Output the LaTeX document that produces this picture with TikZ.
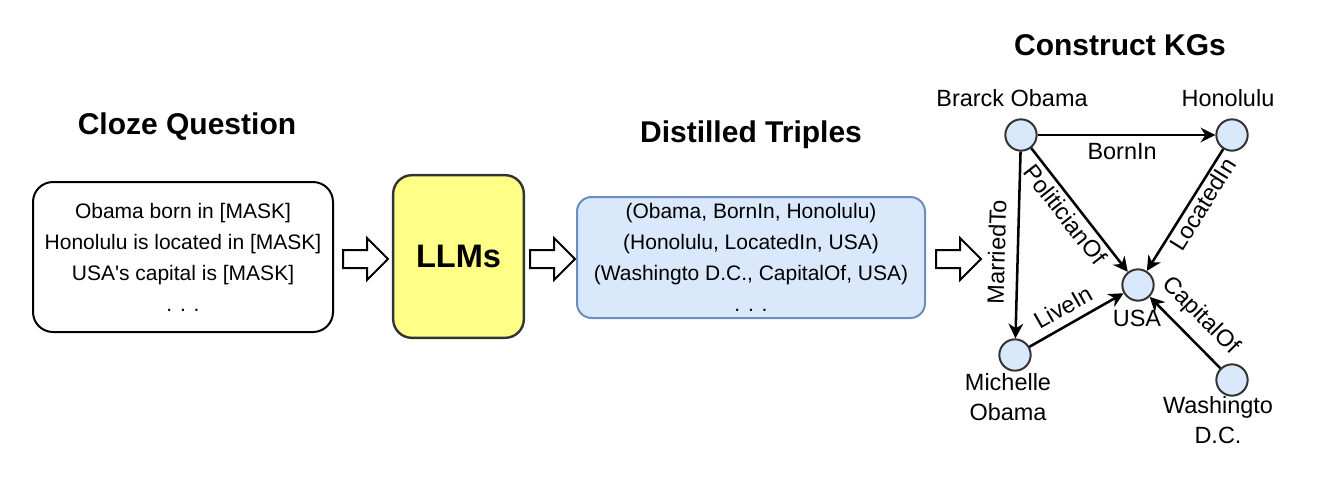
\documentclass[tikz,border=0pt]{standalone}
\usepackage{fontspec}
\setmainfont{Liberation Sans}
\usetikzlibrary{arrows.meta}
\definecolor{kgblue}{HTML}{DAE8FC}
\definecolor{kgborder}{HTML}{6C8EBF}
\definecolor{llmyellow}{HTML}{FFFF88}
\definecolor{darkline}{HTML}{333333}
\tikzset{
  ttl/.style={font=\fontsize{22.5}{27}\selectfont\bfseries, inner sep=0pt},
  boxtext/.style={font=\fontsize{15.75}{23.25}\selectfont, align=center},
  clozebox/.style={draw=black, line width=1.5pt, rounded corners=15pt, minimum width=225pt, minimum height=112.5pt, boxtext},
  llmbox/.style={draw=darkline, fill=llmyellow, line width=1.8pt, rounded corners=14pt, minimum width=98pt, minimum height=122pt, font=\fontsize{24.4}{28}\selectfont\bfseries},
  tribox/.style={draw=kgborder, fill=kgblue, line width=1.5pt, rounded corners=11pt, minimum width=261pt, minimum height=90.75pt, boxtext},
  kgn/.style={circle, draw=darkline, fill=kgblue, line width=1.5pt, minimum size=23.5pt, inner sep=0pt},
  kgt/.style={font=\fontsize{17.6}{22}\selectfont, align=center, inner sep=0pt},
  kge/.style={line width=1.9pt, -{Stealth[length=11pt, width=11pt, inset=3.5pt]}},
  elab/.style={font=\fontsize{17.6}{22}\selectfont},
  blockarrow/.pic={
    \draw[line width=1.5pt, fill=white, line join=miter] (0,-9) -- (24,-9) -- (24,-21) -- (45,0) -- (24,21) -- (24,9) -- (0,9) -- cycle;
  }
}
\begin{document}
\begin{tikzpicture}[x=0.75pt,y=-0.75pt]
\useasboundingbox (0,0) rectangle (1324,494);
% titles
\node[ttl] (tcloze) at (187,127) {Cloze Question};
\node[ttl] (tdist) at (751,135) {Distilled Triples};
\node[ttl] (tkg) at (1120,45) {Construct KGs};
% boxes
\node[clozebox] (cloze) at (183,257) {Obama born in [MASK]\\Honolulu is located in [MASK]\\USA\textquotesingle s capital is [MASK]\\. . .};
\node[llmbox] (llm) at (458.5,256.5) {LLMs};
\node[tribox] (tri) at (751,257.5) {(Obama, BornIn, Honolulu)\\(Honolulu, LocatedIn, USA)\\(Washingto D.C., CapitalOf, USA)\\. . .};
% block arrows
\pic at (343,259) {blockarrow};
\pic at (530,259) {blockarrow};
\pic at (936,259) {blockarrow};
% KG nodes
\node[kgn] (obama) at (1021,135) {};
\node[kgn] (hono) at (1232,135) {};
\node[kgn] (usa) at (1138,285) {};
\node[kgn] (mich) at (1015,355) {};
\node[kgn] (wash) at (1232,380) {};
% KG labels
\node[kgt] (lobama) at (1012,98) {Brarck Obama};
\node[kgt] (lhono) at (1228,98) {Honolulu};
\node[kgt] (lusa) at (1137,318) {USA};
\node[kgt] (lmich) at (1008,397) {Michelle\\Obama};
\node[kgt] (lwash) at (1218,420) {Washingto\\D.C.};
% KG edges
\draw[kge] (obama) -- node[elab, below, pos=0.475, inner sep=5pt] {BornIn} (hono);
\draw[kge] (obama) -- node[elab, sloped, above, pos=0.54, inner sep=8.5pt] {MarriedTo} (mich);
\draw[kge] (obama) -- node[elab, sloped, below, pos=0.467, inner sep=3pt] {PoliticianOf} (usa);
\draw[kge] (hono) -- node[elab, sloped, below, pos=0.40, inner sep=1.5pt] {LocatedIn} (usa);
\draw[kge] (mich) -- node[elab, sloped, above, pos=0.45, inner sep=6pt] {LiveIn} (usa);
\draw[kge] (wash) -- node[elab, sloped, above, pos=0.51, inner sep=8pt] {CapitalOf} (usa);
\end{tikzpicture}
\end{document}
